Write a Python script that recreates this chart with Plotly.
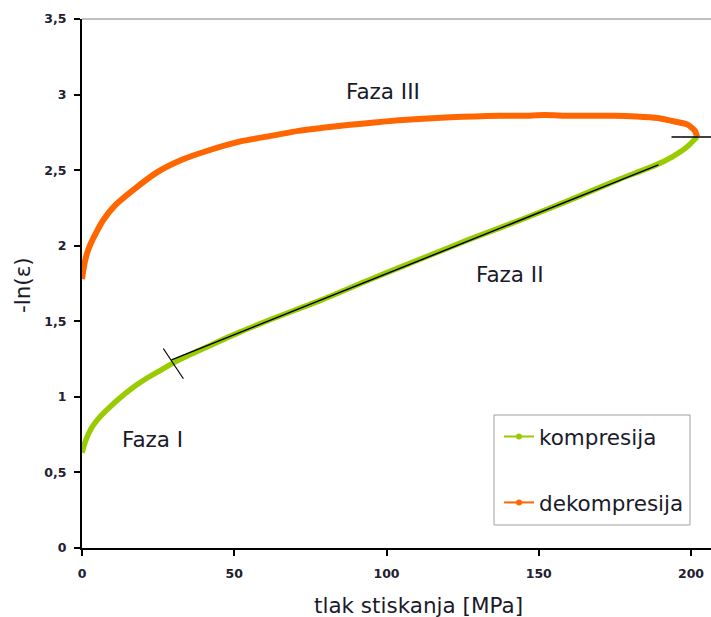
import plotly.graph_objects as go

# ---- data ----
komp_x = [0, 1, 3, 6, 9, 12, 15, 18, 21, 24, 27, 30, 35, 41.5, 52, 63, 78.5, 95, 111, 127, 144, 160, 176.5, 188, 194, 198.5, 202]
komp_y = [0.63, 0.70, 0.79, 0.87, 0.93, 0.985, 1.035, 1.08, 1.12, 1.155, 1.19, 1.225, 1.275, 1.335, 1.43, 1.52, 1.64, 1.78, 1.91, 2.04, 2.17, 2.30, 2.44, 2.53, 2.59, 2.65, 2.72]

dekomp_x = [202, 201.3, 199, 195, 189, 182, 175, 168, 160, 152, 145, 137, 129, 121, 112, 104, 96, 88, 79, 71, 63, 52, 41.5, 33, 25, 17.5, 11, 7, 5, 3, 2, 1, 0.3, 0]
dekomp_y = [2.72, 2.76, 2.80, 2.82, 2.845, 2.855, 2.86, 2.86, 2.86, 2.865, 2.86, 2.86, 2.855, 2.85, 2.84, 2.83, 2.815, 2.80, 2.78, 2.76, 2.73, 2.69, 2.63, 2.57, 2.49, 2.38, 2.27, 2.17, 2.10, 2.02, 1.97, 1.90, 1.82, 1.78]

fit_x = [29.4, 189.3]
fit_y = [1.245, 2.535]

mark1_x = [26.7, 33.3]
mark1_y = [1.32, 1.12]
mark2_x = [193.6, 210]
mark2_y = [2.72, 2.72]

x_ticks = [0, 50, 100, 150, 200]
y_ticks = [0, 0.5, 1, 1.5, 2, 2.5, 3, 3.5]
y_ticktext = ["0", "0,5", "1", "1,5", "2", "2,5", "3", "3,5"]

series_names = ["kompresija", "dekompresija"]
colors = ["#99CC00", "#FF6600"]

phase_labels = ["Faza I", "Faza II", "Faza III"]
phase_x = [23.3, 140.6, 98.9]
phase_y = [0.718, 1.807, 3.018]

# ---- geometry ----
W, H = 711, 617
L, R, T, B = 82, 0, 19, 69
PW, PH = W - L - R, H - T - B


def px2paper(px, py):
    return (px - L) / PW, (H - B - py) / PH


fig = go.Figure()

fig.add_trace(go.Scatter(x=dekomp_x, y=dekomp_y, mode="lines",
                         line=dict(color=colors[1], width=6, shape="spline", smoothing=0.6),
                         showlegend=False, hoverinfo="skip"))
fig.add_trace(go.Scatter(x=komp_x, y=komp_y, mode="lines",
                         line=dict(color=colors[0], width=5.5, shape="spline", smoothing=0.6),
                         showlegend=False, hoverinfo="skip"))
fig.add_trace(go.Scatter(x=fit_x, y=fit_y, mode="lines",
                         line=dict(color="black", width=1.5),
                         showlegend=False, hoverinfo="skip"))
fig.add_trace(go.Scatter(x=mark1_x, y=mark1_y, mode="lines",
                         line=dict(color="black", width=1.2),
                         showlegend=False, hoverinfo="skip"))
fig.add_trace(go.Scatter(x=mark2_x, y=mark2_y, mode="lines",
                         line=dict(color="black", width=1.5),
                         showlegend=False, hoverinfo="skip"))

# legend entries
for i, name in enumerate(series_names):
    fig.add_trace(go.Scatter(x=[None], y=[None], mode="lines+markers", name=name,
                             line=dict(color=colors[i], width=2),
                             marker=dict(color=colors[i], size=6),
                             legendgroup=name))

tick_font = dict(family="DejaVu Sans", size=12.5, color="#202030", weight="bold")
title_font = dict(family="DejaVu Sans", size=21.5, color="#1a1a2a")

fig.update_xaxes(range=[0, PW / 3.045], tickvals=x_ticks, ticks="outside", ticklen=6, tickwidth=2,
                 tickcolor="black", showline=True, linecolor="black", linewidth=2,
                 showgrid=False, zeroline=False, tickfont=tick_font, ticklabelstandoff=7)
fig.update_yaxes(range=[0, 3.5], tickvals=y_ticks, ticktext=y_ticktext, ticks="outside", ticklen=6,
                 tickwidth=2, tickcolor="black", showline=True, linecolor="black", linewidth=2,
                 showgrid=False, zeroline=False, tickfont=tick_font, ticklabelstandoff=5)

annotations = []
for lab, ax_, ay_ in zip(phase_labels, phase_x, phase_y):
    annotations.append(dict(x=ax_, y=ay_, xref="x", yref="y", text=lab, showarrow=False,
                            font=title_font, xanchor="center", yanchor="middle"))

tx, ty = px2paper(418, 605)
annotations.append(dict(x=tx, y=ty, xref="paper", yref="paper", text="tlak stiskanja [MPa]",
                        showarrow=False, font=title_font, xanchor="center", yanchor="middle"))
yx, yy = px2paper(22, 285)
annotations.append(dict(x=yx, y=yy, xref="paper", yref="paper", text="-ln(ε)", textangle=-90,
                        showarrow=False, font=title_font, xanchor="center", yanchor="middle"))

bx0, by0 = px2paper(494, 525)
bx1, by1 = px2paper(690, 415)
shapes = [
    dict(type="rect", xref="paper", yref="paper", x0=bx0, y0=by0, x1=bx1, y1=by1,
         line=dict(color="#a0a0a0", width=1), fillcolor="white", layer="below"),
    dict(type="line", xref="paper", yref="paper", x0=0, x1=1, y0=1, y1=1,
         line=dict(color="#808080", width=1)),
]

lx, ly = px2paper(499, 416)

fig.update_layout(
    width=W, height=H, autosize=False,
    margin=dict(l=L, r=R, t=T, b=B, pad=0),
    plot_bgcolor="white", paper_bgcolor="white",
    annotations=annotations, shapes=shapes,
    showlegend=True,
    legend=dict(x=lx, y=ly, xanchor="left", yanchor="top", bgcolor="rgba(0,0,0,0)",
                borderwidth=0, font=title_font, tracegroupgap=35, traceorder="grouped",
                itemwidth=30),
)

fig.write_html("out.html", config={"displayModeBar": False},
               post_script="document.body.style.margin='0px';")
